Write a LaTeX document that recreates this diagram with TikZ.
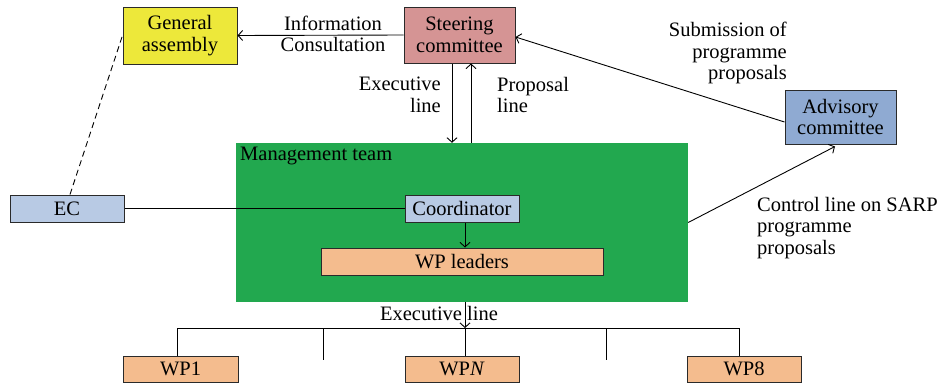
\documentclass[tikz,border=0pt]{standalone}
\usepackage{fontspec}
\setmainfont{Liberation Serif}
\usetikzlibrary{arrows.meta}
\definecolor{gayellow}{HTML}{EDE83A}
\definecolor{scred}{HTML}{D59494}
\definecolor{acblue}{HTML}{8FAAD2}
\definecolor{lblue}{HTML}{B8CAE4}
\definecolor{wporange}{HTML}{F4BC8E}
\definecolor{mgreen}{HTML}{22A84F}
\definecolor{edge}{HTML}{2A2A2A}
\tikzset{
  box/.style={draw=edge, line width=1pt, inner sep=0pt, align=center, font=\fontsize{20.5}{21.5}\selectfont},
  lbl/.style={inner sep=0pt, font=\fontsize{20.5}{21.5}\selectfont},
  conn/.style={draw=black, line width=0.9pt},
  arr/.style={conn, -{Straight Barb[length=4.5pt,width=10pt,line width=0.9pt]}},
}
\begin{document}
\begin{tikzpicture}[x=1pt,y=-1pt]
\useasboundingbox (0,0) rectangle (943,383);
% green management area
\node[fill=mgreen, inner sep=0pt, minimum width=452pt, minimum height=159pt] (green) at (462,222.5) {};
\node[lbl, anchor=west] (mt) at (240,156) {Management team};
% boxes
\node[box, fill=gayellow, minimum width=114pt, minimum height=57pt] (ga) at (180,35.5) {General\\assembly};
\node[box, fill=scred, minimum width=111pt, minimum height=56pt] (sc) at (459.5,35) {Steering\\committee};
\node[box, fill=acblue, minimum width=111pt, minimum height=54pt] (ac) at (840.5,117) {Advisory\\committee};
\node[box, fill=lblue, minimum width=114pt, minimum height=27pt] (ec) at (67,208.5) {EC};
\node[box, fill=lblue, minimum width=114pt, minimum height=27pt] (co) at (462,208.5) {Coordinator};
\node[box, fill=wporange, minimum width=282pt, minimum height=27pt] (wpl) at (462,261.5) {WP leaders};
\node[box, fill=wporange, minimum width=115pt, minimum height=26pt] (wp1) at (180.5,369) {WP1};
\node[box, fill=wporange, minimum width=114pt, minimum height=26pt] (wpn) at (462,369) {WP\textit{N}};
\node[box, fill=wporange, minimum width=114pt, minimum height=26pt] (wp8) at (744,369) {WP8};
% labels
\node[lbl, align=center] (lic) at (333,34) {Information\\Consultation};
\node[lbl, align=right, anchor=east] (lex) at (441,95) {Executive\\line};
\node[lbl, align=left, anchor=west] (lpr) at (497,95) {Proposal\\line};
\node[lbl, align=right, anchor=east] (lsub) at (787,53) {Submission of\\programme\\proposals};
\node[lbl, align=left, anchor=west] (lctl) at (757,228) {Control line on SARP\\programme\\proposals};
% connectors
\draw[arr] (sc.west) -- (ga.east);
\draw[conn, dashed, dash pattern=on 6pt off 4pt] ([xshift=3pt]ec.north) -- (ga.west);
\draw[arr] (sc.south -| 452,0) -- (green.north -| 452,0);
\draw[arr] (green.north -| 471,0) -- (sc.south -| 471,0);
\draw[arr] ([yshift=-5pt]ac.west) -- ([yshift=-2pt]sc.east);
\coordinate (acin) at (835,146.5);
\draw[arr] (green.east) -- (acin);
\draw[conn] (ec.east) -- (co.west);
\draw[arr] (co.south -| 465,0) -- (wpl.north -| 465,0);
% bottom tree
\coordinate (bus) at (465,328);
\coordinate (busl) at (177,328);
\coordinate (busr) at (739,328);
\coordinate (s1) at (323,360);
\coordinate (s2) at (606,360);
\draw[arr] (green.south -| bus) -- (bus);
\draw[conn] (busl) -- (busr);
\draw[conn] (bus) -- (wpn.north -| bus);
\draw[conn] (busl) -- (wp1.north -| busl);
\draw[conn] (busr) -- (wp8.north -| busr);
\draw[conn] (s1 |- bus) -- (s1);
\draw[conn] (s2 |- bus) -- (s2);
\node[lbl, fill=none] (lbot) at (439,313) {Executive line};
\end{tikzpicture}
\end{document}
